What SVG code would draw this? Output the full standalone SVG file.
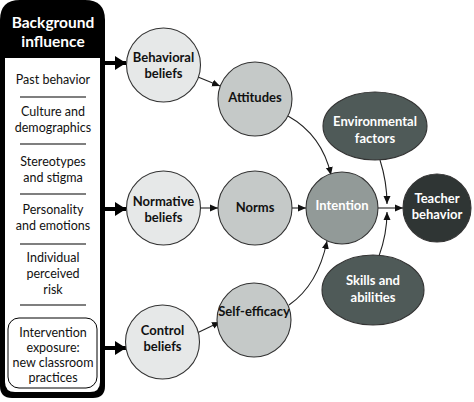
<svg xmlns="http://www.w3.org/2000/svg" width="474" height="402" viewBox="0 0 474 402">
<style>
.t{font-family:Lato,"Open Sans","Liberation Sans",sans-serif;font-size:12.5px;fill:#111;text-anchor:middle}
.b{font-weight:bold;font-size:13px}
.w{fill:#fff}
.c{stroke:#333;stroke-width:1.1}
.ln{fill:none;stroke:#222;stroke-width:1.1}
.th{fill:none;stroke:#000;stroke-width:4}
.sep{stroke:#000;stroke-width:1.2}
</style>
<defs>
<marker id="a" markerUnits="userSpaceOnUse" markerWidth="9" markerHeight="8" refX="8" refY="4" orient="auto"><path d="M0,0.5 L8,4 L0,7.5 Z" fill="#111"/></marker>
<marker id="A" markerUnits="userSpaceOnUse" markerWidth="12" markerHeight="14" refX="11" refY="7" orient="auto"><path d="M0,0 L11,7 L0,14 Z" fill="#000"/></marker>
</defs>
<rect width="474" height="402" fill="#fff"/>
<g id="background">
<path d="M0,20 Q0,0 20,0 H85 Q105,0 105,20 V386 Q105,398 93,398 H12 Q0,398 0,386 Z" fill="#000"/>
<path d="M5,58 H100 V382 Q100,392 90,392 H15 Q5,392 5,382 Z" fill="#fff"/>
<text class="t b w" x="53" y="28" style="font-size:15.5px">Background</text>
<text class="t b w" x="53" y="47" style="font-size:15.5px">influence</text>
<text class="t" x="53" y="84">Past behavior</text>
<line class="sep" x1="20" y1="97" x2="86" y2="97"/>
<text class="t" x="53" y="116">Culture and</text>
<text class="t" x="53" y="132">demographics</text>
<line class="sep" x1="20" y1="144" x2="86" y2="144"/>
<text class="t" x="53" y="166">Stereotypes</text>
<text class="t" x="53" y="181.5">and stigma</text>
<line class="sep" x1="20" y1="194" x2="86" y2="194"/>
<text class="t" x="53" y="214">Personality</text>
<text class="t" x="53" y="229.5">and emotions</text>
<line class="sep" x1="20" y1="244" x2="86" y2="244"/>
<text class="t" x="53" y="262">Individual</text>
<text class="t" x="53" y="278">perceived</text>
<text class="t" x="53" y="294">risk</text>
<line class="sep" x1="20" y1="305" x2="86" y2="305"/>
<rect x="8" y="318" width="89" height="70" rx="11" fill="#fff" stroke="#000" stroke-width="1"/>
<text class="t" x="53" y="337">Intervention</text>
<text class="t" x="53" y="352">exposure:</text>
<text class="t" x="53" y="367">new classroom</text>
<text class="t" x="53" y="382">practices</text>
</g>
<g id="connectors">
<path class="th" d="M104,63 H126" marker-end="url(#A)"/>
<path class="th" d="M104,209 H126" marker-end="url(#A)"/>
<path class="th" d="M104,348 H126" marker-end="url(#A)"/>
<path class="ln" d="M198,77 L220,86" marker-end="url(#a)"/>
<path class="ln" d="M200,208 L218,208" marker-end="url(#a)"/>
<path class="ln" d="M197,333 L220,322" marker-end="url(#a)"/>
<path class="ln" d="M288,116 Q322,135 331,175" marker-end="url(#a)"/>
<path class="ln" d="M292,208 L306,208" marker-end="url(#a)"/>
<path class="ln" d="M289,305 Q318,285 327,241" marker-end="url(#a)"/>
<path class="ln" d="M378,208 L403,208" marker-end="url(#a)"/>
<path class="ln" d="M380,160 Q387,182 387,204" marker-end="url(#a)"/>
<path class="ln" d="M379,256 Q387,234 387,212" marker-end="url(#a)"/>
</g>
<g id="behavioral-beliefs">
<circle class="c" cx="163.5" cy="65" r="37" fill="#e6e8e8"/>
<text class="t b" x="163.5" y="61.5">Behavioral</text>
<text class="t b" x="163.5" y="78">beliefs</text>
</g>
<g id="normative-beliefs">
<circle class="c" cx="163.5" cy="208" r="37" fill="#e6e8e8"/>
<text class="t b" x="163.5" y="206">Normative</text>
<text class="t b" x="163.5" y="222">beliefs</text>
</g>
<g id="control-beliefs">
<circle class="c" cx="162.5" cy="342" r="37" fill="#e6e8e8"/>
<text class="t b" x="162.5" y="334.5">Control</text>
<text class="t b" x="162.5" y="351">beliefs</text>
</g>
<g id="attitudes">
<circle class="c" cx="255" cy="99" r="37" fill="#c5c9c8"/>
<text class="t b" x="255" y="102">Attitudes</text>
</g>
<g id="norms">
<circle class="c" cx="255" cy="208" r="37" fill="#c5c9c8"/>
<text class="t b" x="255" y="212">Norms</text>
</g>
<g id="self-efficacy">
<circle class="c" cx="254" cy="320" r="37" fill="#c5c9c8"/>
<text class="t b" x="254" y="316">Self-efficacy</text>
</g>
<g id="intention">
<circle class="c" cx="342" cy="208" r="36" fill="#929a98"/>
<text class="t b w" x="342" y="210">Intention</text>
</g>
<g id="environmental-factors">
<ellipse class="c" cx="375" cy="126" rx="52" ry="34" fill="#4f5a58"/>
<text class="t b w" x="375" y="126">Environmental</text>
<text class="t b w" x="375" y="142.5">factors</text>
</g>
<g id="skills-and-abilities">
<ellipse class="c" cx="373" cy="290" rx="51" ry="35" fill="#4f5a58"/>
<text class="t b w" x="373" y="284.5">Skills and</text>
<text class="t b w" x="373" y="302">abilities</text>
</g>
<g id="teacher-behavior">
<circle class="c" cx="437" cy="208" r="34" fill="#2f3534"/>
<text class="t b w" x="437" y="202.5">Teacher</text>
<text class="t b w" x="437" y="219">behavior</text>
</g>
</svg>
